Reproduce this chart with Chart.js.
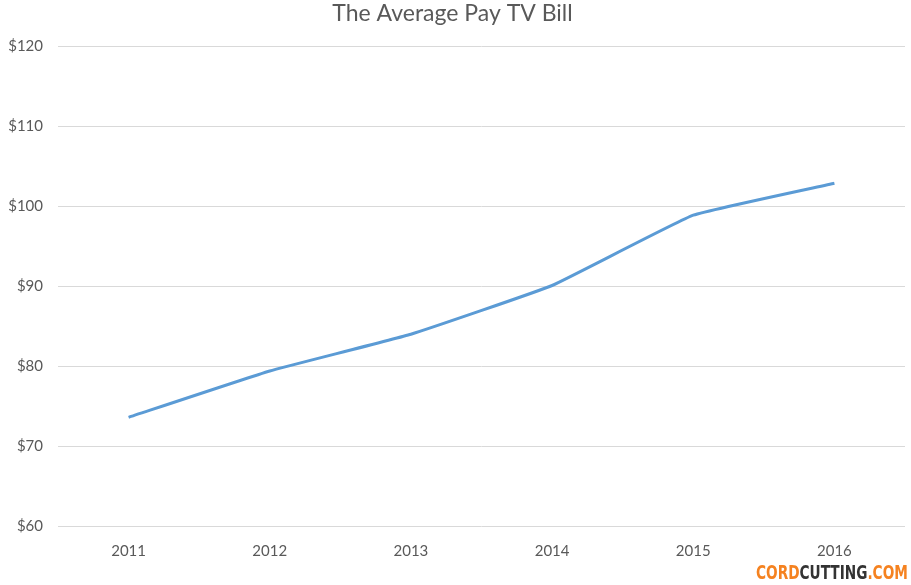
<!DOCTYPE html>
<html>
<head>
<meta charset="utf-8">
<script src="https://cdn.jsdelivr.net/npm/chart.js@4"></script>
<style>
  html, body { margin: 0; padding: 0; background: #fff; }
  #wrap { position: relative; width: 911px; height: 585px; }
  #logo {
    position: absolute; right: 3px; bottom: 1px;
    font-family: "DejaVu Sans Condensed", "Liberation Sans Narrow", sans-serif;
    font-weight: bold; font-size: 20px; color: #333;
    transform: scaleX(0.76); transform-origin: right bottom;
    white-space: nowrap;
  }
  #logo .o { color: #f58220; }
</style>
</head>
<body>
<div id="wrap">
  <canvas id="grafico" width="911" height="585"></canvas>
  <div id="logo"><span class="o">CORD</span>CUTTING<span class="o">.COM</span></div>
</div>
<script>
const anos = ['2011', '2012', '2013', '2014', '2015', '2016'];
const contaMedia = [73.6, 79.4, 84.0, 90.1, 98.9, 102.9];
const eixoY = [60, 120, 10]; // min, max, passo

const fonte = 'Lato, "Open Sans", sans-serif';
const cinza = '#595959';

const ctx = document.getElementById('grafico').getContext('2d');

new Chart(ctx, {
  type: 'line',
  data: {
    labels: anos,
    datasets: [{
      label: 'Average Pay TV Bill',
      data: contaMedia,
      borderColor: '#5b9bd5',
      borderWidth: 3,
      pointRadius: 0,
      tension: 0.1,
      fill: false
    }]
  },
  options: {
    responsive: false,
    animation: false,
    layout: { padding: { left: 0, right: 6, top: 0, bottom: 0 } },
    plugins: {
      legend: { display: false },
      tooltip: { enabled: false },
      title: {
        display: true,
        text: 'The Average Pay TV Bill',
        color: cinza,
        font: { family: fonte, size: 23, weight: 'normal' },
        padding: { top: 0, bottom: 19 }
      }
    },
    scales: {
      x: {
        offset: true,
        grid: { display: false },
        border: { display: false },
        ticks: { color: cinza, font: { family: fonte, size: 15 }, padding: 8 },
        afterFit: (s) => { s.height = 59; }
      },
      y: {
        min: eixoY[0],
        max: eixoY[1],
        grid: { color: '#d9d9d9', lineWidth: 1, drawTicks: false },
        border: { display: false },
        ticks: {
          stepSize: eixoY[2],
          color: cinza,
          font: { family: fonte, size: 15 },
          padding: 15,
          callback: (v) => '$' + v
        },
        afterFit: (s) => { s.width = 58; }
      }
    }
  }
});
</script>
</body>
</html>
